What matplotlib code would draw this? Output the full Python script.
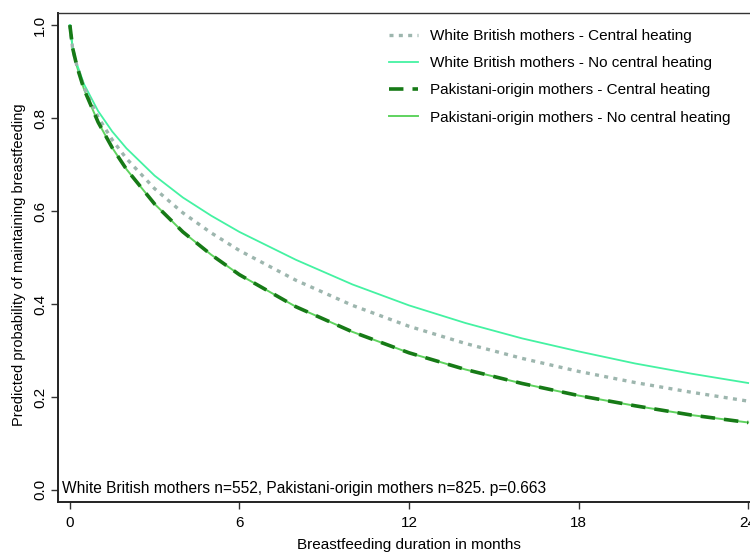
import matplotlib
matplotlib.use('Agg')
import matplotlib.pyplot as plt

months = [0, 0.1, 0.25, 0.5, 1, 1.5, 2, 3, 4, 5, 6, 8, 10, 12, 14, 16, 18, 20, 22, 24]

# Predicted probability of maintaining breastfeeding
wb_central = [1.0, 0.948, 0.912, 0.866, 0.802, 0.753, 0.713, 0.648, 0.596, 0.553, 0.515,
              0.451, 0.397, 0.352, 0.315, 0.283, 0.255, 0.231, 0.210, 0.191]
wb_no_central = [1.0, 0.950, 0.916, 0.873, 0.815, 0.771, 0.735, 0.676, 0.629, 0.590, 0.555,
                 0.495, 0.442, 0.397, 0.359, 0.326, 0.298, 0.272, 0.250, 0.230]
pak_central = [1.0, 0.950, 0.911, 0.862, 0.791, 0.736, 0.690, 0.615, 0.555, 0.506, 0.463,
               0.394, 0.340, 0.295, 0.259, 0.229, 0.203, 0.181, 0.161, 0.145]
pak_no_central = [1.0, 0.950, 0.911, 0.862, 0.791, 0.736, 0.690, 0.615, 0.555, 0.506, 0.463,
                  0.394, 0.340, 0.295, 0.259, 0.229, 0.203, 0.181, 0.161, 0.145]

series_labels = ['White British mothers - Central heating',
                 'White British mothers - No central heating',
                 'Pakistani-origin mothers - Central heating',
                 'Pakistani-origin mothers - No central heating']

x_ticks = [0, 6, 12, 18, 24]
y_ticks = [0.0, 0.2, 0.4, 0.6, 0.8, 1.0]
note = 'White British mothers n=552, Pakistani-origin mothers n=825. p=0.663'

FONT = 'Liberation Sans'

fig = plt.figure(figsize=(7.5, 5.52), dpi=100)
ax = fig.add_axes([58 / 750, 1 - 502 / 552, 702 / 750, 489 / 552])

ax.plot(months, pak_no_central, color='#5fd35f', lw=1.4, label=series_labels[3], zorder=2)
ax.plot(months, pak_central, color='#167a16', lw=2.6, ls=(0, (4, 2.5)), label=series_labels[2], zorder=3)
ax.plot(months, wb_no_central, color='#44f2a2', lw=1.3, label=series_labels[1], zorder=2)
ax.plot(months, wb_central, color='#9db6ae', lw=2.4, ls=(0, (1.2, 1.6)), label=series_labels[0], zorder=2)

ax.set_xlim(-0.42, 24.42)
ax.set_ylim(-0.026, 1.026)
ax.set_xticks(x_ticks)
ax.set_xticklabels([str(t) for t in x_ticks], fontsize=11, family=FONT)
ax.set_yticks(y_ticks)
ax.set_yticklabels(['%.1f' % t for t in y_ticks], fontsize=11, family=FONT,
                   rotation=90, va='center')
ax.tick_params(length=5, width=1, color='#333333', pad=3)
ax.tick_params(axis='x', pad=5)

ax.spines['right'].set_visible(False)
for s in ['left', 'bottom']:
    ax.spines[s].set_linewidth(1.4)
    ax.spines[s].set_color('#222222')
ax.spines['top'].set_linewidth(1.0)
ax.spines['top'].set_color('#333333')

ax.set_xlabel('Breastfeeding duration in months', fontsize=11, family=FONT, labelpad=6)
ax.set_ylabel('Predicted probability of maintaining breastfeeding', fontsize=10.5, family=FONT)
ax.yaxis.set_label_coords(-32 / 702, 0.485)

ax.text(0.005, 0.012, note, transform=ax.transAxes, fontsize=11.2, family=FONT,
        ha='left', va='bottom')

handles, labels = ax.get_legend_handles_labels()
order = [3, 2, 1, 0]
ax.legend([handles[i] for i in order], [labels[i] for i in order],
          loc='upper left', bbox_to_anchor=(325 / 702, 0.98), frameon=False,
          prop={'family': FONT, 'size': 11}, handlelength=1.9,
          handletextpad=0.75, labelspacing=0.87, borderaxespad=0)

fig.savefig('out.png', dpi=100)
